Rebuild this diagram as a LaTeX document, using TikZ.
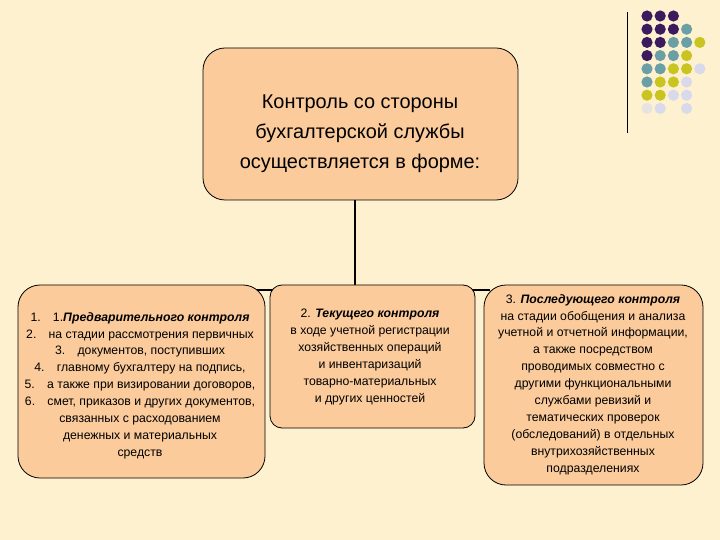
\documentclass[tikz,border=0pt]{standalone}
\usepackage{fontspec}
\setmainfont{Liberation Sans}
\definecolor{bg}{HTML}{FDF1D0}
\definecolor{peach}{HTML}{FBCB9C}
\definecolor{dP}{HTML}{3B1B5E}
\definecolor{dT}{HTML}{6A9FA6}
\definecolor{dY}{HTML}{C9C420}
\definecolor{dL}{HTML}{D9D9EC}
\begin{document}
\begin{tikzpicture}[x=1bp,y=-1bp,
  box/.style={draw=black,line width=0.8pt,fill=peach,rounded corners=22bp,inner sep=0pt},
  txt/.style={align=center,font=\fontsize{12.3}{17}\selectfont,inner sep=0pt}]
\useasboundingbox (0,0) rectangle (720,540);
\fill[bg] (0,0) rectangle (720,540);
% decoration
\draw[line width=1pt] (627,12) -- (627,133);
\foreach \r/\row in {0/{dP,dP,dP},1/{dP,dP,dP,dT},2/{dP,dP,dT,dT,dY},3/{dP,dT,dT,dY},4/{dT,dT,dY,dY,dL},5/{dT,dY,dY,dL},6/{dY,dY,dL,dL}}{
  \foreach \c [count=\i from 0] in \row {\fill[\c] (647+13.2*\i,16+13.2*\r) circle (5.6);}}
\fill[dL!60!bg] (647,108.4) circle (5.6);
\fill[dL] (660.2,108.4) circle (5.6);
\fill[dL] (686.6,108.4) circle (5.6);
% connectors
\coordinate (hl) at (240,290); \coordinate (hr) at (490,290);
\draw[line width=3pt] (hl) -- (hr);
\node[box,minimum width=315bp,minimum height=152bp] (top) at (360.5,124) {};
\coordinate (j) at (355,290);
\draw[line width=3pt] (top.south -| j) -- (j);
\node[box,minimum width=247bp,minimum height=193bp] (left) at (141.5,381.5) {};
\node[box,minimum width=205bp,minimum height=143bp,rounded corners=12bp] (mid) at (372.5,356.5) {};
\node[box,minimum width=219bp,minimum height=200bp] (right) at (593.5,385) {};
% texts
\node[txt,font=\fontsize{20}{30}\selectfont] (tt) at (360,134) {Контроль со стороны\\бухгалтерской службы\\осуществляется в форме:};
\node[txt,anchor=north] (lt) at (140,312) {1.\quad 1.\textbf{\textit{Предварительного контроля}}\\
2.\quad на стадии рассмотрения первичных\\
3.\quad документов, поступивших\\
4.\quad главному бухгалтеру на подпись,\\
5.\quad а также при визировании договоров,\\
6.\quad смет, приказов и других документов,\\
связанных с расходованием\\денежных и материальных\\средств};
\node[txt,anchor=north] (mt) at (370,309) {2. \textit{\textbf{Текущего контроля}}\\в ходе учетной регистрации\\хозяйственных операций\\и инвентаризаций\\товарно-материальных\\и других ценностей};
\node[txt,anchor=north] (rt) at (593,294) {3. \textit{\textbf{Последующего контроля}}\\на стадии обобщения и анализа\\учетной и отчетной информации,\\а также посредством\\проводимых совместно с\\другими функциональными\\службами ревизий и\\тематических проверок\\(обследований) в отдельных\\внутрихозяйственных\\подразделениях};
\end{tikzpicture}
\end{document}
